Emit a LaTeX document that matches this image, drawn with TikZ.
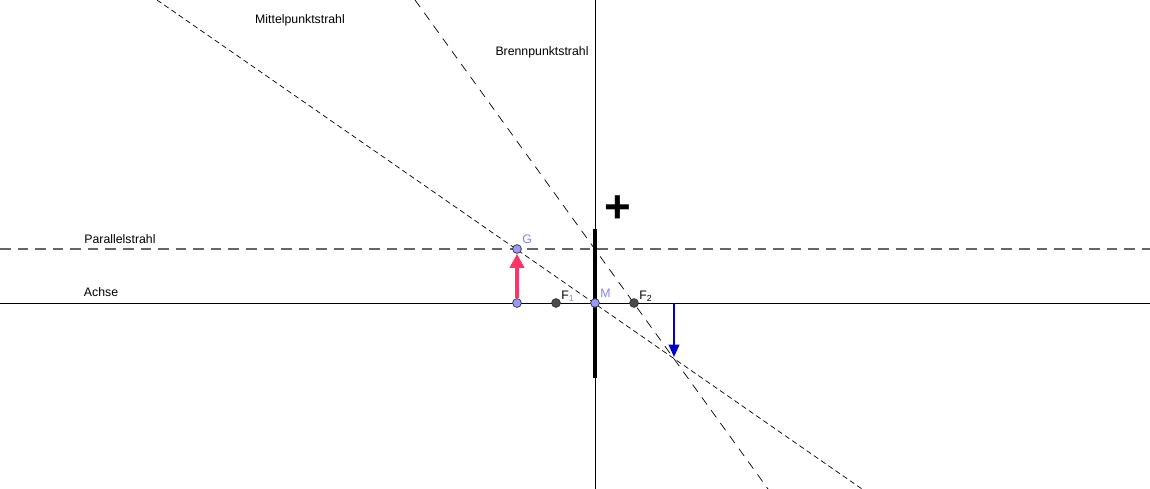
\documentclass[tikz,border=0pt]{standalone}
\usepackage{fontspec}
\setmainfont{Liberation Sans}
\usetikzlibrary{arrows.meta}
\definecolor{objred}{RGB}{255,51,102}
\tikzset{
  lbl/.style={font=\fontsize{7}{8}\selectfont},
  pt/.style={circle,draw=black!80,fill=#1,inner sep=0pt,minimum size=5pt},
  ray/.style={dashed,dash pattern=on 3pt off 2pt,thin}
}
\begin{document}
\begin{tikzpicture}[x={(0.02cm,0)},y={(0,-0.02cm)}]
\useasboundingbox (0,0) rectangle (1150,489);

\coordinate (L) at (0,303);
\coordinate (R) at (1150,303);
\coordinate (Ptop) at (0,249);
\coordinate (Pend) at (1150,249);
\coordinate (Mtop) at (157,0);
\coordinate (Mend) at (862,489);
\coordinate (Btop) at (415,0);
\coordinate (Bend) at (768,489);
\coordinate (Btm) at (674,303);
\coordinate (Btp) at (674,357);

\draw[thin] (L) -- (R);
\draw[thin] (595,0) -- (595,489);
\draw[dashed,dash pattern=on 6pt off 4pt,black!60,line width=0.8pt] (Ptop) -- (Pend);
\draw[ray] (Mtop) -- (Mend);
\draw[ray,dash pattern=on 5pt off 4pt] (Btop) -- (Bend);
\draw[line width=2.5pt] (595,229) -- (595,378);

\node[pt=blue!40] (Gb) at (517,303) {};
\node[pt=blue!40] (G) at (517,249) {};
\draw[-{Triangle[length=8pt,width=8pt]},line width=2.5pt,objred] (Gb) -- (G);
\draw[-{Triangle[length=7pt,width=6pt]},line width=1.2pt,blue!80!black] (Btm) -- (Btp);
\node[pt=black!70] (F1) at (556,303) {};
\node[pt=black!70] (F2) at (634,303) {};
\node[pt=blue!40] (M) at (595,303) {};

\node[lbl,text=blue!50,anchor=south west,inner sep=1pt] at (G.north east) {G};
\node[lbl,text=blue!50,anchor=south west,inner sep=1pt] at (M.north east) {M};
\node[lbl,anchor=south west,inner sep=1pt] at ([yshift=-2pt]F1.north east) {F$_{\textcolor{blue!50}{\mathrm{1}}}$};
\node[lbl,anchor=south west,inner sep=1pt] at ([yshift=-2pt]F2.north east) {F$_{\mathrm{2}}$};
\node[font=\fontsize{26}{26}\selectfont\bfseries] (plus) at (618,209) {+};

\node[lbl] (mt) at (300,20) {Mittelpunktstrahl};
\node[lbl] (bt) at (542,52) {Brennpunktstrahl};
\node[lbl] (pt) at (120,239) {Parallelstrahl};
\node[lbl] (ax) at (101,292) {Achse};
\end{tikzpicture}
\end{document}
